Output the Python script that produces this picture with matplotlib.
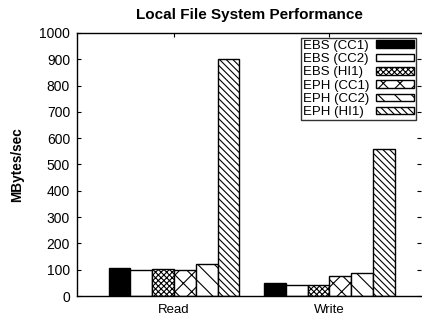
import numpy as np
import matplotlib
matplotlib.use("Agg")
import matplotlib.pyplot as plt
from matplotlib.patches import Patch

plt.rcParams["font.family"] = ["Liberation Sans", "DejaVu Sans"]
plt.rcParams["hatch.linewidth"] = 0.8

groups = ["Read", "Write"]
series = ["EBS (CC1)", "EBS (CC2)", "EBS (HI1)", "EPH (CC1)", "EPH (CC2)", "EPH (HI1)"]
read_vals = [108, 99, 104, 100, 120, 902]
write_vals = [51, 43, 41, 76, 87, 559]

fills = ["black", "white", "white", "white", "white", "white"]
hatches = [None, None, "xxxxxx", "xx", "\\\\", "\\\\\\\\\\"]

fig = plt.figure(figsize=(4.22, 3.2), dpi=100)
ax = fig.add_axes([0.1825, 0.075, 0.8155, 0.822])

x = np.arange(len(groups))
width = 0.14
vals = np.array([read_vals, write_vals]).T
for i, name in enumerate(series):
    off = (i - 2.5) * width
    ax.bar(x + off, vals[i], width, color=fills[i], edgecolor="black",
           hatch=hatches[i], linewidth=1.0, label=name)

ax.set_xlim(-0.624, 1.59)
ax.set_ylim(0, 1000)
ax.set_yticks(np.arange(0, 1001, 100))
ax.set_xticks(x)
ax.set_xticklabels(groups)
ax.tick_params(direction="in", length=3, top=True, right=True)
ax.tick_params(axis="y", labelsize=10, pad=5)
ax.tick_params(axis="x", labelsize=9.5, pad=6)
ax.spines["right"].set_visible(False)
for s in ["left", "top", "bottom"]:
    ax.spines[s].set_linewidth(1.0)

ax.set_ylabel("MBytes/sec", fontsize=9.8, fontweight="bold", labelpad=11)
ax.set_title("Local File System Performance", fontsize=11, fontweight="bold", pad=10)

handles = [Patch(facecolor=fills[i], edgecolor="black", hatch=hatches[i], label=series[i])
           for i in range(len(series))]
leg = ax.legend(handles=handles, loc="upper right", bbox_to_anchor=(0.992, 0.99),
                markerfirst=False, fontsize=9.5, frameon=True, fancybox=False,
                handlelength=2.9, handleheight=0.5, labelspacing=0.1,
                borderpad=0.12, handletextpad=0.5, borderaxespad=0.2)
leg.get_frame().set_edgecolor("black")
leg.get_frame().set_linewidth(1.0)

# left-align legend labels while keeping swatches in one column on the right
fig.canvas.draw()
renderer = fig.canvas.get_renderer()
texts = leg.get_texts()
widths = [t.get_window_extent(renderer).width for t in texts]
maxw = max(widths)
px2pt = 72.0 / fig.dpi
for col in leg._legend_handle_box.get_children():
    col.align = "left"
    for row, w in zip(col.get_children(), widths):
        row.sep = row.sep + (maxw - w) * px2pt

fig.savefig("out.png", dpi=100)
